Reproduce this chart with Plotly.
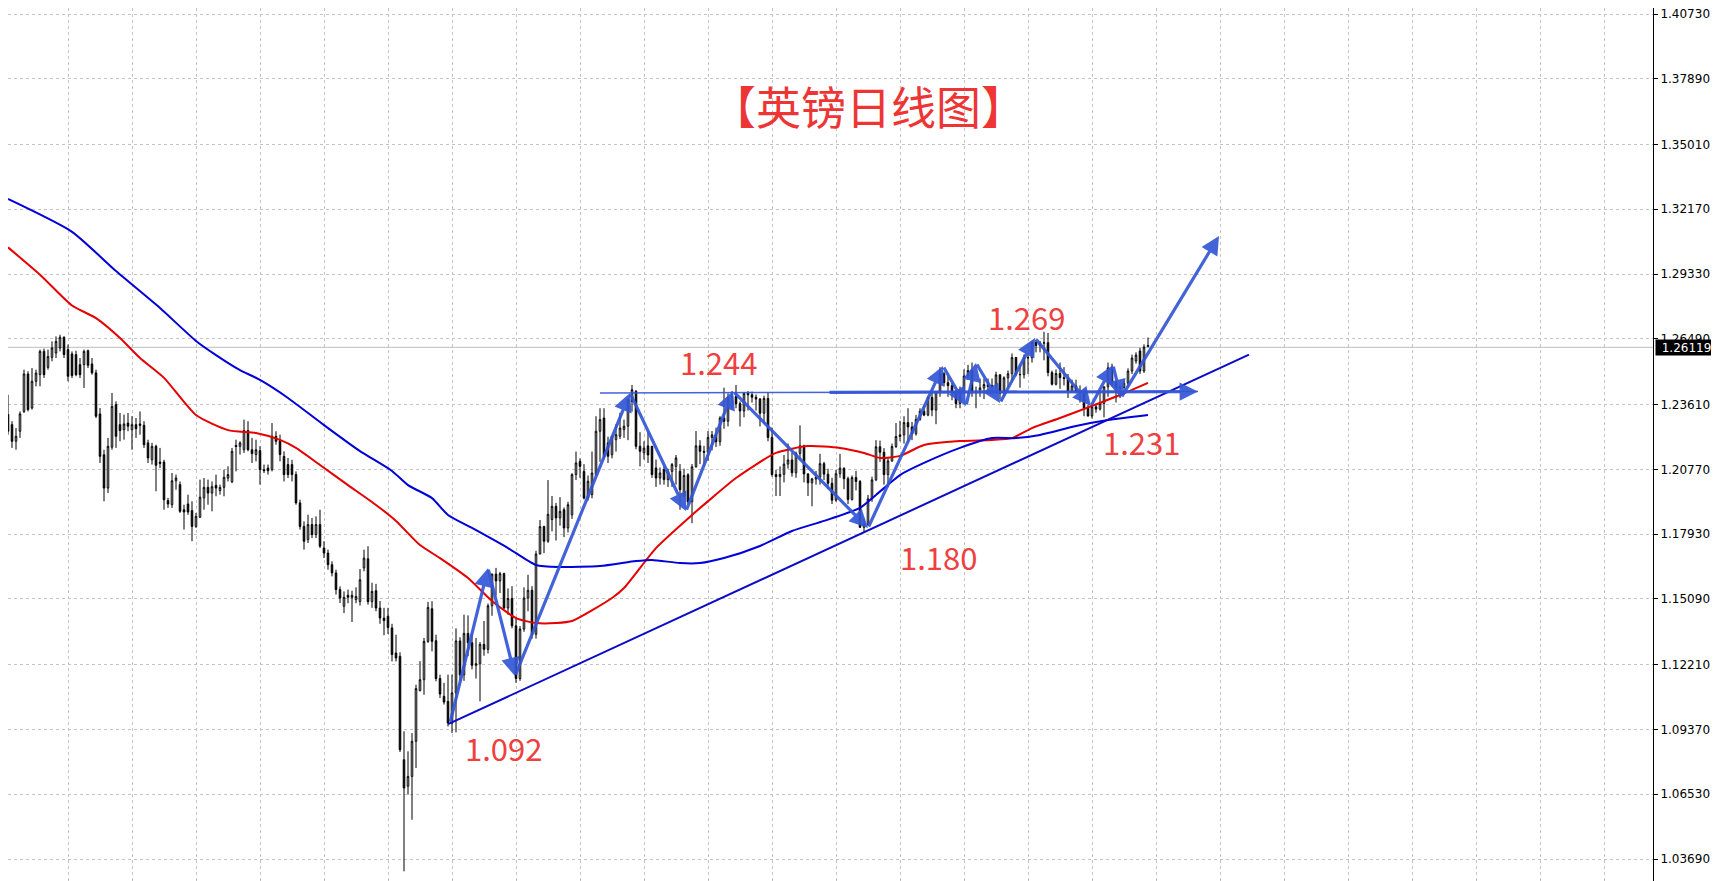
import plotly.graph_objects as go

# ---------------- data ----------------
opens = [1.2317,1.2273,1.2200,1.2244,1.2331,1.2495,1.2346,1.2463,1.2492,1.2594,
1.2524,1.2568,1.2587,1.2609,1.2656,1.2602,1.2583,1.2580,1.2536,1.2536,
1.2597,1.2539,1.2500,1.2320,1.2141,1.1995,1.2174,1.2361,1.2273,1.2251,
1.2280,1.2251,1.2273,1.2276,1.2270,1.2193,1.2119,1.2178,1.2109,1.2109,
1.1940,1.1922,1.2027,1.2010,1.1900,1.1925,1.1896,1.1827,1.1867,1.1952,
1.1998,1.1973,1.2007,1.1984,1.1998,1.2039,1.2022,1.2182,1.2178,1.2163,
1.2247,1.2163,1.2142,1.2159,1.2076,1.2083,1.2076,1.2222,1.2203,1.2134,
1.2098,1.2098,1.2054,1.1930,1.1827,1.1769,1.1835,1.1791,1.1835,1.1732,
1.1710,1.1659,1.1623,1.1550,1.1477,1.1525,1.1516,1.1506,1.1498,1.1645,
1.1685,1.1497,1.1545,1.1469,1.1425,1.1433,1.1382,1.1272,1.1257,1.0804,
1.0688,1.0731,1.0885,1.1107,1.1155,1.1323,1.1466,1.1326,1.1160,1.1082,
1.1060,1.0965,1.1097,1.1325,1.1176,1.1358,1.1317,1.1218,1.1225,1.1310,
1.1288,1.1479,1.1618,1.1588,1.1620,1.1469,1.1511,1.1391,1.1160,1.1377,
1.1513,1.1547,1.1354,1.1706,1.1826,1.1762,1.1857,1.1915,1.1864,1.1900,
1.1820,1.1878,1.2054,1.2112,1.2068,1.1951,1.1966,1.2054,1.2244,1.2302,
1.2193,1.2141,1.2207,1.2222,1.2251,1.2266,1.2375,1.2419,1.2178,1.2150,
1.2180,1.2178,1.2083,1.2039,1.2076,1.2032,1.2068,1.2090,1.2069,1.1960,
1.2053,1.1935,1.2088,1.2180,1.2156,1.2152,1.2217,1.2228,1.2198,1.2302,
1.2288,1.2393,1.2396,1.2365,1.2333,1.2410,1.2404,1.2393,1.2385,1.2323,
1.2388,1.2217,1.2054,1.2045,1.2055,1.2100,1.2118,1.2062,1.2147,1.2180,
1.2057,1.2018,1.2035,1.2043,1.2102,1.2056,1.2016,1.1942,1.2058,1.2082,
1.2036,1.1945,1.2041,1.2024,1.1823,1.1836,1.1948,1.2031,1.2176,1.2152,
1.2054,1.2114,1.2177,1.2221,1.2228,1.2282,1.2263,1.2233,1.2296,1.2332,
1.2315,1.2392,1.2337,1.2417,1.2496,1.2457,1.2444,1.2414,1.2365,1.2419,
1.2486,1.2510,1.2413,1.2415,1.2434,1.2449,1.2440,1.2443,1.2491,1.2411,
1.2478,1.2496,1.2567,1.2493,1.2492,1.2568,1.2566,1.2633,1.2620,1.2630,
1.2632,1.2501,1.2450,1.2497,1.2479,1.2475,1.2418,1.2443,1.2419,1.2413,
1.2345,1.2311,1.2351,1.2341,1.2366,1.2439,1.2522,1.2456,1.2434,1.2436,
1.2455,1.2508,1.2552,1.2596,1.2508,1.2615]

highs = [1.2404,1.2288,1.2258,1.2331,1.2514,1.2507,1.2521,1.2514,1.2602,1.2606,
1.2602,1.2638,1.2660,1.2667,1.2660,1.2624,1.2594,1.2597,1.2565,1.2602,
1.2602,1.2565,1.2514,1.2346,1.2163,1.2215,1.2412,1.2375,1.2324,1.2317,
1.2324,1.2310,1.2302,1.2331,1.2288,1.2207,1.2193,1.2185,1.2171,1.2119,
1.1952,1.2061,1.2054,1.2024,1.1922,1.1966,1.1937,1.1886,1.2032,1.2039,
1.2032,1.2024,1.2054,1.2010,1.2076,1.2090,1.2171,1.2207,1.2200,1.2295,
1.2288,1.2215,1.2207,1.2178,1.2098,1.2098,1.2280,1.2244,1.2229,1.2156,
1.2127,1.2119,1.2068,1.1944,1.1849,1.1878,1.1864,1.1871,1.1900,1.1762,
1.1725,1.1674,1.1637,1.1564,1.1542,1.1550,1.1545,1.1560,1.1640,1.1725,
1.1740,1.1580,1.1575,1.1500,1.1470,1.1470,1.1400,1.1352,1.1275,1.0929,
1.0841,1.0921,1.1133,1.1236,1.1338,1.1496,1.1499,1.1352,1.1177,1.1141,
1.1177,1.1177,1.1380,1.1341,1.1440,1.1437,1.1358,1.1338,1.1320,1.1412,
1.1489,1.1620,1.1645,1.1628,1.1624,1.1555,1.1565,1.1430,1.1390,1.1560,
1.1615,1.1565,1.1720,1.1855,1.1830,1.2030,1.1960,1.1930,1.1955,1.1910,
1.1935,1.2060,1.2155,1.2125,1.2100,1.2050,1.2155,1.2310,1.2345,1.2345,
1.2220,1.2225,1.2275,1.2325,1.2295,1.2390,1.2447,1.2425,1.2240,1.2200,
1.2240,1.2180,1.2120,1.2085,1.2090,1.2080,1.2105,1.2140,1.2100,1.2080,
1.2060,1.2100,1.2245,1.2205,1.2180,1.2245,1.2245,1.2260,1.2310,1.2435,
1.2410,1.2420,1.2447,1.2375,1.2415,1.2420,1.2418,1.2405,1.2390,1.2400,
1.2415,1.2260,1.2075,1.2090,1.2140,1.2190,1.2150,1.2155,1.2270,1.2185,
1.2060,1.2040,1.2070,1.2145,1.2110,1.2080,1.2040,1.2075,1.2145,1.2085,
1.2045,1.2050,1.2070,1.2030,1.1860,1.1965,1.2045,1.2205,1.2203,1.2170,
1.2125,1.2190,1.2280,1.2290,1.2310,1.2345,1.2285,1.2315,1.2345,1.2360,
1.2400,1.2420,1.2420,1.2525,1.2505,1.2485,1.2455,1.2425,1.2440,1.2515,
1.2535,1.2545,1.2440,1.2475,1.2475,1.2475,1.2475,1.2505,1.2495,1.2485,
1.2510,1.2585,1.2570,1.2540,1.2580,1.2580,1.2640,1.2645,1.2640,1.2680,
1.2675,1.2510,1.2515,1.2545,1.2525,1.2495,1.2470,1.2470,1.2445,1.2420,
1.2360,1.2365,1.2365,1.2415,1.2440,1.2545,1.2540,1.2465,1.2445,1.2470,
1.2520,1.2580,1.2590,1.2610,1.2625,1.2655]

lows = [1.2229,1.2171,1.2163,1.2215,1.2324,1.2331,1.2339,1.2441,1.2441,1.2478,
1.2514,1.2551,1.2565,1.2594,1.2565,1.2463,1.2477,1.2485,1.2477,1.2434,
1.2521,1.2492,1.2302,1.2105,1.1937,1.1973,1.2163,1.2171,1.2200,1.2207,
1.2244,1.2163,1.2215,1.2229,1.2171,1.2105,1.2098,1.1981,1.2083,1.1900,
1.1908,1.1908,1.1988,1.1886,1.1813,1.1878,1.1762,1.1820,1.1864,1.1900,
1.1922,1.1893,1.1959,1.1966,1.1959,1.2024,1.2017,1.2068,1.2142,1.2149,
1.2156,1.2105,1.2112,1.2010,1.2061,1.2054,1.2068,1.2185,1.2112,1.2024,
1.2039,1.2024,1.1922,1.1813,1.1725,1.1754,1.1776,1.1776,1.1732,1.1688,
1.1637,1.1608,1.1528,1.1491,1.1447,1.1490,1.1408,1.1490,1.1480,1.1630,
1.1484,1.1470,1.1455,1.1400,1.1350,1.1355,1.1235,1.1235,1.0838,1.0315,
1.0651,1.0541,1.0768,1.1104,1.1089,1.1316,1.1279,1.1148,1.1075,1.1046,
1.0950,1.0921,1.0924,1.1150,1.1150,1.1258,1.1200,1.1160,1.1060,1.1260,
1.1270,1.1435,1.1525,1.1535,1.1465,1.1440,1.1380,1.1142,1.1150,1.1365,
1.1455,1.1335,1.1335,1.1705,1.1710,1.1755,1.1805,1.1765,1.1830,1.1780,
1.1800,1.1860,1.2030,1.2040,1.1945,1.1940,1.1950,1.2050,1.2110,1.2120,
1.2105,1.2125,1.2155,1.2210,1.2215,1.2205,1.2330,1.2165,1.2090,1.2120,
1.2105,1.2040,1.2000,1.2010,1.2010,1.2000,1.2000,1.2010,1.1900,1.1955,
1.1925,1.1841,1.2085,1.2100,1.2095,1.2115,1.2160,1.2175,1.2180,1.2255,
1.2265,1.2345,1.2345,1.2265,1.2305,1.2335,1.2370,1.2335,1.2265,1.2275,
1.2200,1.2045,1.1960,1.1960,1.2020,1.2080,1.2045,1.2040,1.2120,1.2020,
1.1960,1.1915,1.2010,1.2010,1.2030,1.1990,1.1925,1.1935,1.2040,1.1990,
1.1925,1.1940,1.1985,1.1820,1.1803,1.1830,1.1935,1.2025,1.2110,1.2010,
1.2000,1.2110,1.2170,1.2200,1.2190,1.2200,1.2205,1.2225,1.2290,1.2310,
1.2310,1.2310,1.2275,1.2395,1.2440,1.2395,1.2380,1.2345,1.2345,1.2410,
1.2470,1.2395,1.2345,1.2395,1.2385,1.2415,1.2410,1.2425,1.2385,1.2395,
1.2435,1.2460,1.2485,1.2435,1.2475,1.2495,1.2545,1.2590,1.2590,1.2555,
1.2485,1.2445,1.2445,1.2430,1.2445,1.2390,1.2415,1.2410,1.2370,1.2310,
1.2308,1.2300,1.2325,1.2335,1.2305,1.2395,1.2440,1.2370,1.2390,1.2405,
1.2440,1.2495,1.2540,1.2495,1.2500,1.2612]

closes = [1.2244,1.2200,1.2222,1.2320,1.2495,1.2339,1.2463,1.2499,1.2594,1.2492,
1.2572,1.2609,1.2638,1.2656,1.2580,1.2485,1.2488,1.2492,1.2492,1.2594,
1.2533,1.2500,1.2310,1.2134,1.1995,1.2178,1.2353,1.2222,1.2247,1.2276,
1.2266,1.2273,1.2255,1.2270,1.2185,1.2127,1.2178,1.2095,1.2103,1.1944,
1.1925,1.2027,1.2039,1.1893,1.1890,1.1890,1.1827,1.1871,1.1955,1.1998,
1.1973,1.2001,1.1995,1.1998,1.2042,1.2054,1.2156,1.2177,1.2193,1.2247,
1.2163,1.2146,1.2163,1.2076,1.2071,1.2071,1.2222,1.2200,1.2142,1.2054,
1.2054,1.2054,1.1930,1.1827,1.1762,1.1835,1.1791,1.1835,1.1740,1.1710,
1.1659,1.1623,1.1550,1.1513,1.1516,1.1516,1.1525,1.1520,1.1593,1.1688,
1.1497,1.1542,1.1469,1.1425,1.1414,1.1384,1.1265,1.1250,1.0848,1.0680,
1.0731,1.0885,1.1116,1.1155,1.1323,1.1472,1.1323,1.1160,1.1092,1.1057,
1.0965,1.1097,1.1325,1.1176,1.1358,1.1317,1.1218,1.1225,1.1310,1.1288,
1.1479,1.1618,1.1588,1.1620,1.1469,1.1511,1.1391,1.1160,1.1377,1.1513,
1.1547,1.1354,1.1706,1.1826,1.1762,1.1880,1.1915,1.1864,1.1893,1.1820,
1.1922,1.2054,1.2105,1.2090,1.1951,1.2025,1.2061,1.2244,1.2295,1.2134,
1.2134,1.2222,1.2229,1.2258,1.2266,1.2382,1.2426,1.2178,1.2156,1.2170,
1.2140,1.2054,1.2039,1.2061,1.2032,1.2068,1.2098,1.2127,1.1988,1.2050,
1.1935,1.2088,1.2180,1.2156,1.2152,1.2217,1.2228,1.2198,1.2302,1.2288,
1.2393,1.2396,1.2365,1.2333,1.2410,1.2404,1.2393,1.2385,1.2323,1.2388,
1.2217,1.2054,1.2045,1.2055,1.2100,1.2118,1.2062,1.2147,1.2180,1.2057,
1.2018,1.2035,1.2043,1.2102,1.2056,1.2016,1.1942,1.2058,1.2082,1.2036,
1.1945,1.2041,1.2024,1.1823,1.1836,1.1948,1.2031,1.2176,1.2152,1.2054,
1.2114,1.2177,1.2221,1.2228,1.2282,1.2263,1.2233,1.2296,1.2332,1.2315,
1.2392,1.2337,1.2417,1.2496,1.2457,1.2444,1.2414,1.2365,1.2419,1.2486,
1.2510,1.2413,1.2415,1.2434,1.2449,1.2440,1.2443,1.2491,1.2411,1.2478,
1.2496,1.2567,1.2493,1.2492,1.2568,1.2566,1.2633,1.2620,1.2630,1.2632,
1.2501,1.2450,1.2497,1.2479,1.2475,1.2418,1.2443,1.2419,1.2413,1.2345,
1.2311,1.2351,1.2341,1.2366,1.2439,1.2522,1.2456,1.2434,1.2436,1.2455,
1.2508,1.2565,1.2578,1.2508,1.2613,1.2620]

bar_idx = list(range(len(closes)))

# moving averages (sampled along the curves, by bar index)
ma_red_idx = [0, 8, 16, 22, 28, 33, 39, 47, 55, 62, 68, 72, 78, 85, 92, 97, 103, 108,
              115, 121, 127, 132, 137, 141, 151, 154, 162, 171, 176, 182, 192, 200,
              208, 214, 218, 223, 229, 238, 246, 251, 256, 263, 271, 278, 285]
ma_red_val = [1.3050, 1.2930, 1.2795, 1.2740, 1.2653, 1.2565, 1.2478, 1.2315, 1.2249,
              1.2236, 1.2206, 1.2171, 1.2096, 1.2008, 1.1921, 1.1851, 1.1745, 1.1688,
              1.1601, 1.1500, 1.1425, 1.1403, 1.1403, 1.1412, 1.1513, 1.1557, 1.1732,
              1.1877, 1.1952, 1.2039, 1.2149, 1.2179, 1.2171, 1.2149, 1.2127, 1.2136,
              1.2184, 1.2201, 1.2206, 1.2214, 1.2258, 1.2302, 1.2355, 1.2403, 1.2456]

ma_blue_idx = [0, 16, 27, 38, 47, 52, 58, 63, 70, 79, 88, 96, 100, 106, 110, 116, 125,
               132, 138, 148, 157, 161, 168, 173, 179, 188, 196, 204, 213, 217, 223,
               229, 238, 246, 252, 258, 267, 275, 285]
ma_blue_val = [1.3262, 1.3118, 1.2946, 1.2784, 1.2640, 1.2578, 1.2512, 1.2469, 1.2390,
               1.2271, 1.2157, 1.2070, 1.2008, 1.1951, 1.1877, 1.1820, 1.1732, 1.1658,
               1.1649, 1.1653, 1.1675, 1.1680, 1.1666, 1.1666, 1.1688, 1.1741, 1.1807,
               1.1851, 1.1908, 1.1965, 1.2052, 1.2105, 1.2171, 1.2214, 1.2214, 1.2228,
               1.2267, 1.2293, 1.2315]

# support trend line and 1.244 neckline
trend_idx = [110, 310.25]
trend_val = [1.0960, 1.2580]
neck_idx = [148, 297.5]
neck_val = [1.2412, 1.2418]
neck_thick_start = 205

# zig-zag arrow path
zig_idx = [110.5, 120, 126.75, 155.5, 169.5, 181.25, 215, 233.75, 239.5, 242, 248,
           256.75, 270.75, 276.25, 278.25, 302.75]
zig_val = [1.0965, 1.1644, 1.1171, 1.2412, 1.1894, 1.2420, 1.1820, 1.2530, 1.2355,
           1.2543, 1.2368, 1.2653, 1.2355, 1.2534, 1.2390, 1.3100]

# level labels
level_text = ["1.092", "1.244", "1.180", "1.269", "1.231"]
level_idx = [123.75, 177.5, 232.5, 254.5, 283.25]
level_val = [1.0856, 1.2548, 1.1697, 1.2749, 1.2197]

title_text = "【英镑日线图】"
title_idx = 215
title_val = 1.3674

y_ticks = [1.40730, 1.37890, 1.35010, 1.32170, 1.29330, 1.26490, 1.23610, 1.20770,
           1.17930, 1.15090, 1.12210, 1.09370, 1.06530, 1.03690]
y_ticktext = ["%.5f" % v for v in y_ticks]
last_price = 1.26119

# ---------------- figure ----------------
ARROW = "rgba(52,86,214,0.92)"
fig = go.Figure()

fig.add_trace(go.Candlestick(
    x=bar_idx, open=opens, high=highs, low=lows, close=closes,
    increasing=dict(line=dict(color="black", width=1), fillcolor="white"),
    decreasing=dict(line=dict(color="black", width=1), fillcolor="black"),
    whiskerwidth=0, showlegend=False, hoverinfo="skip"))

fig.add_trace(go.Scatter(x=ma_red_idx, y=ma_red_val, mode="lines",
                         line=dict(color="#e60000", width=2, shape="spline", smoothing=0.6),
                         showlegend=False, hoverinfo="skip"))
fig.add_trace(go.Scatter(x=ma_blue_idx, y=ma_blue_val, mode="lines",
                         line=dict(color="#0000d8", width=2, shape="spline", smoothing=0.6),
                         showlegend=False, hoverinfo="skip"))
fig.add_trace(go.Scatter(x=trend_idx, y=trend_val, mode="lines",
                         line=dict(color="#0a0ac8", width=2),
                         showlegend=False, hoverinfo="skip"))
fig.add_trace(go.Scatter(x=neck_idx, y=neck_val, mode="lines",
                         line=dict(color=ARROW, width=1.5),
                         showlegend=False, hoverinfo="skip"))

annotations = []
for k in range(len(zig_idx) - 1):
    annotations.append(dict(
        x=zig_idx[k + 1], y=zig_val[k + 1], ax=zig_idx[k], ay=zig_val[k],
        xref="x", yref="y", axref="x", ayref="y", text="", showarrow=True,
        arrowhead=2, arrowsize=1.15, arrowwidth=3.2, arrowcolor=ARROW, standoff=0))

neck_start_val = neck_val[0] + (neck_val[1] - neck_val[0]) * (neck_thick_start - neck_idx[0]) / (neck_idx[1] - neck_idx[0])
annotations.append(dict(
    x=neck_idx[1], y=neck_val[1], ax=neck_thick_start, ay=neck_start_val,
    xref="x", yref="y", axref="x", ayref="y", text="", showarrow=True,
    arrowhead=2, arrowsize=1.15, arrowwidth=3.2, arrowcolor=ARROW, standoff=0))

for t, xi, yv in zip(level_text, level_idx, level_val):
    annotations.append(dict(x=xi, y=yv, xref="x", yref="y", text=t, showarrow=False,
                            font=dict(family="Noto Sans CJK SC", size=31, color="#ee4040"),
                            xanchor="center", yanchor="middle"))

annotations.append(dict(x=title_idx, y=title_val, xref="x", yref="y", text=title_text,
                        showarrow=False, xanchor="center", yanchor="middle",
                        font=dict(family="Noto Sans CJK SC", size=45, color="#ee3535")))

annotations.append(dict(x=1, xref="paper", y=last_price, yref="y", xanchor="left",
                        yanchor="middle", xshift=2, text="1.26119", showarrow=False,
                        bgcolor="black", borderpad=0, width=61, height=15,
                        font=dict(family="DejaVu Sans", size=12, color="white")))

grid_x = [15.175 + 16 * k for k in range(25)]

fig.update_layout(
    width=1719, height=881,
    margin=dict(l=0, r=74, t=0, b=0),
    paper_bgcolor="white", plot_bgcolor="white",
    showlegend=False,
    boxgap=0.45,
    annotations=annotations,
    shapes=[dict(type="line", xref="paper", x0=0, x1=1, yref="y", y0=last_price, y1=last_price,
                 line=dict(color="#bdbdbd", width=1), layer="below")],
    xaxis=dict(range=[0, 411.25], tickmode="array", tickvals=grid_x, showticklabels=False,
               ticks="", showgrid=True, gridcolor="#c4c4c4", griddash="3px,3px", gridwidth=1,
               zeroline=False, showline=False, rangeslider=dict(visible=False), fixedrange=True),
    yaxis=dict(range=[1.02375, 1.40993], side="right", tickmode="array", tickvals=y_ticks,
               ticktext=y_ticktext, showgrid=True, gridcolor="#c4c4c4", griddash="3px,3px",
               gridwidth=1, zeroline=False, showline=True, linecolor="black", linewidth=1,
               ticks="outside", ticklen=4, tickcolor="black", ticklabeloverflow="allow",
               tickfont=dict(family="DejaVu Sans", size=12, color="black"), fixedrange=True),
)

fig.write_html("out.html")
